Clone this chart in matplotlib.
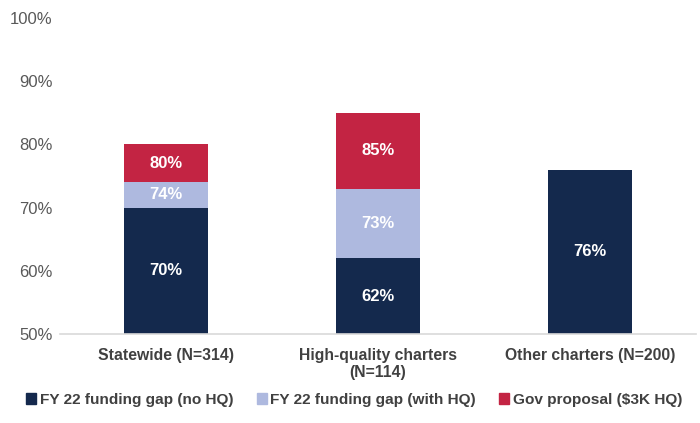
import numpy as np
import matplotlib.pyplot as plt
from matplotlib.patches import Patch

plt.rcParams['font.family'] = ['Liberation Sans', 'DejaVu Sans']

categories = ['Statewide (N=314)', 'High-quality charters\n(N=114)', 'Other charters (N=200)']
series_names = ['FY 22 funding gap (no HQ)', 'FY 22 funding gap (with HQ)', 'Gov proposal ($3K HQ)']
colors = ['#14294D', '#AEB9DF', '#C32443']
# cumulative levels shown in the labels (None = segment absent)
no_hq = [70, 62, 76]
with_hq = [74, 73, None]
gov = [80, 85, None]

base = 50
fig = plt.figure(figsize=(7, 4.23), dpi=100)
ax = fig.add_axes([60 / 700, 1 - 334 / 423, 636 / 700, 316 / 423])

x = np.arange(len(categories))
width = 0.4
levels = [no_hq, with_hq, gov]
for i in range(len(categories)):
    prev = base
    for s, series in enumerate(levels):
        v = series[i]
        if v is None:
            continue
        ax.bar(x[i], v - prev, bottom=prev, width=width, color=colors[s], linewidth=0)
        ax.text(x[i], (v + prev) / 2, f'{v}%', ha='center', va='center',
                color='white', fontsize=12, fontweight='bold')
        prev = v

ax.set_ylim(50, 100)
ax.set_xlim(-0.5, 2.5)
ax.set_yticks(range(50, 101, 10))
ax.set_yticklabels([f'{t}%' for t in range(50, 101, 10)], color='#595959', fontsize=12)
ax.set_xticks(x)
ax.set_xticklabels(categories, color='#404040', fontsize=11.3, fontweight='bold')
ax.tick_params(axis='both', length=0)
ax.tick_params(axis='y', pad=5.5)
ax.tick_params(axis='x', pad=10)
for sp in ['top', 'right', 'left']:
    ax.spines[sp].set_visible(False)
ax.spines['bottom'].set_color('#D9D9D9')
ax.spines['bottom'].set_linewidth(1.2)

handles = [Patch(color=c, label=n) for c, n in zip(colors, series_names)]
fig.legend(handles=handles, loc='center', bbox_to_anchor=(0.506, 1 - 400 / 423), ncol=3,
           frameon=False, handlelength=0.65, handleheight=0.65,
           handletextpad=0.25, columnspacing=1.5,
           prop={'weight': 'bold', 'size': 11.1})
for t in fig.legends[0].get_texts():
    t.set_color('#404040')

fig.savefig('out.png', dpi=100)
